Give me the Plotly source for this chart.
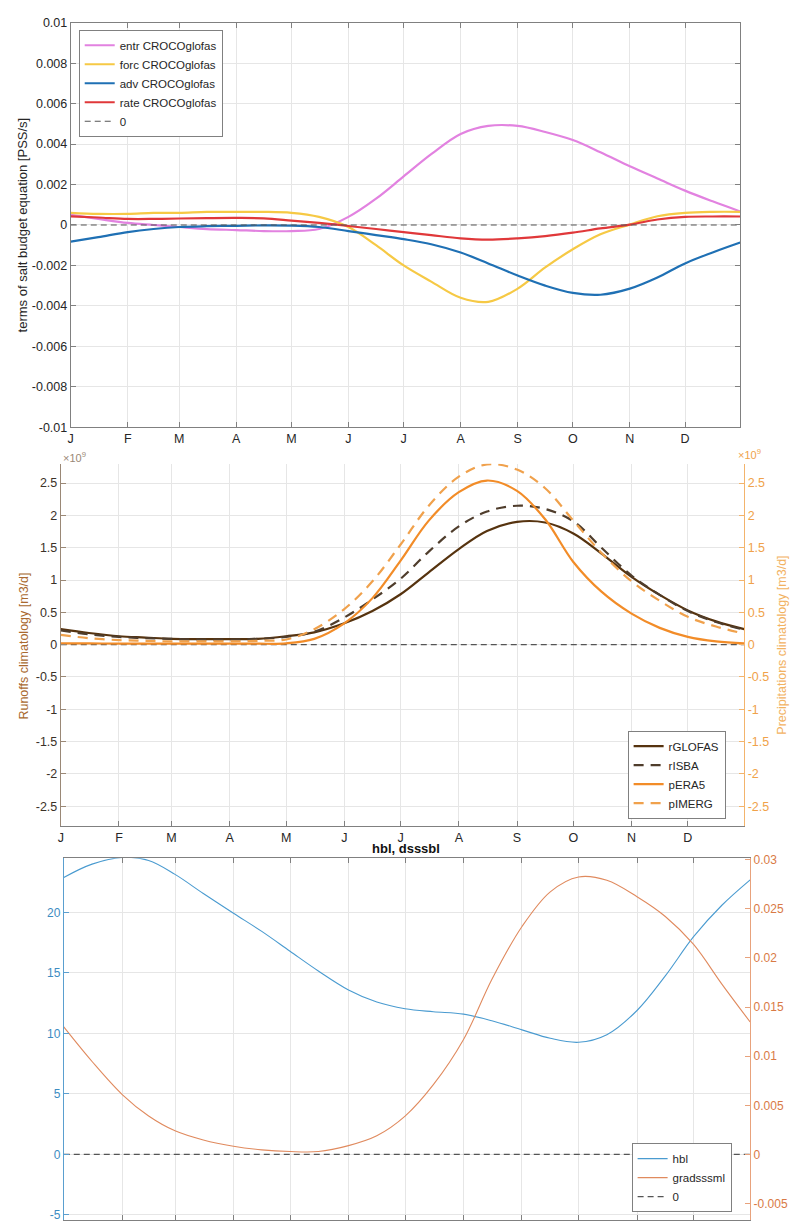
import plotly.graph_objects as go

# ---------------------------------------------------------------------------
# Day-of-year sample positions (0 = 1 January) and month ticks
# ---------------------------------------------------------------------------
DAYS = [0, 15, 31, 45, 59, 74, 90, 105, 120, 135, 151, 166, 181,
        196, 212, 227, 243, 258, 273, 288, 304, 319, 334, 349, 364]
MONTH_START = [0, 31, 59, 90, 120, 151, 181, 212, 243, 273, 304, 334]
MONTH_LABEL = ["J", "F", "M", "A", "M", "J", "J", "A", "S", "O", "N", "D"]

# ---------------------------------------------------------------------------
# Panel 1: terms of the salt budget equation [PSS/s]
# ---------------------------------------------------------------------------
entr = [0.0005, 0.0003, 0.0001, 0.0000, -0.0001, -0.0002, -0.00025, -0.0003,
        -0.0003, -0.0002, 0.0004, 0.0013, 0.0024, 0.0035, 0.0045, 0.0049,
        0.0049, 0.0046, 0.0042, 0.0036, 0.0029, 0.0023, 0.0017, 0.00117, 0.00067]
forc = [0.0006, 0.00055, 0.00055, 0.0006, 0.0006, 0.00065, 0.00065, 0.00065,
        0.0006, 0.0004, -0.0001, -0.0010, -0.0020, -0.0028, -0.0036, -0.0038,
        -0.00315, -0.0021, -0.0012, -0.00046, 0.00002, 0.00043, 0.0006, 0.00065, 0.00065]
adv = [-0.00082, -0.0006, -0.00035, -0.0002, -0.0001, -0.00006, -0.00004, -0.00002,
       -0.00003, -0.0001, -0.0003, -0.0005, -0.0007, -0.00095, -0.00136, -0.0019,
       -0.0025, -0.0030, -0.00336, -0.00345, -0.00315, -0.0026, -0.0019, -0.00136, -0.00087]
rate = [0.00043, 0.00037, 0.0003, 0.0003, 0.00032, 0.00034, 0.00035, 0.00033,
        0.00022, 0.0001, -0.00005, -0.0002, -0.00035, -0.0005, -0.00066, -0.00072,
        -0.00066, -0.00055, -0.00038, -0.00017, 0.00002, 0.00027, 0.0004, 0.00042, 0.00042]
P1_TICKS = [0.01, 0.008, 0.006, 0.004, 0.002, 0, -0.002, -0.004, -0.006, -0.008, -0.01]
P1_TICKTEXT = ["0.01", "0.008", "0.006", "0.004", "0.002", "0",
               "-0.002", "-0.004", "-0.006", "-0.008", "-0.01"]

# ---------------------------------------------------------------------------
# Panel 2: runoff / precipitation climatology [x1e9 m3/d]
# ---------------------------------------------------------------------------
rGLOFAS = [0.24, 0.18, 0.13, 0.11, 0.09, 0.085, 0.085, 0.09, 0.13, 0.19, 0.33, 0.52,
           0.78, 1.12, 1.48, 1.76, 1.90, 1.89, 1.72, 1.41, 1.05, 0.77, 0.53, 0.36, 0.24]
rISBA = [0.22, 0.16, 0.12, 0.10, 0.09, 0.08, 0.08, 0.09, 0.12, 0.20, 0.42, 0.70,
         1.02, 1.44, 1.83, 2.06, 2.15, 2.10, 1.91, 1.50, 1.07, 0.77, 0.52, 0.35, 0.23]
pERA5 = [0.02, 0.02, 0.015, 0.015, 0.015, 0.015, 0.015, 0.015, 0.02, 0.09, 0.33, 0.72,
         1.30, 1.92, 2.36, 2.54, 2.38, 1.94, 1.28, 0.82, 0.48, 0.26, 0.12, 0.05, 0.02]
pIMERG = [0.15, 0.10, 0.07, 0.06, 0.05, 0.05, 0.05, 0.06, 0.08, 0.24, 0.55, 0.98,
          1.55, 2.15, 2.60, 2.79, 2.71, 2.42, 1.92, 1.42, 0.98, 0.68, 0.43, 0.28, 0.17]
P2_TICKS = [2.5, 2, 1.5, 1, 0.5, 0, -0.5, -1, -1.5, -2, -2.5]
P2_TICKTEXT = ["2.5", "2", "1.5", "1", "0.5", "0", "-0.5", "-1", "-1.5", "-2", "-2.5"]

# ---------------------------------------------------------------------------
# Panel 3: hbl (left axis) and gradsssml (right axis)
# ---------------------------------------------------------------------------
hbl = [22.9, 24.0, 24.55, 24.3, 23.15, 21.57, 19.94, 18.44, 16.8, 15.17, 13.6, 12.6,
       12.05, 11.8, 11.6, 11.05, 10.3, 9.6, 9.27, 9.9, 11.9, 14.76, 18.0, 20.6, 22.7]
gradsssml = [0.01298, 0.00946, 0.0061, 0.00392, 0.00241, 0.00148, 0.00084, 0.00047,
             0.0003, 0.0003, 0.0009, 0.0019, 0.0039, 0.0071, 0.0117, 0.0178,
             0.0232, 0.02673, 0.02824, 0.0279, 0.02623, 0.02422, 0.02137, 0.01734, 0.01348]
P3L_TICKS = [-5, 0, 5, 10, 15, 20]
P3L_TICKTEXT = ["-5", "0", "5", "10", "15", "20"]
P3R_TICKS = [-0.005, 0, 0.005, 0.01, 0.015, 0.02, 0.025, 0.03]
P3R_TICKTEXT = ["-0.005", "0", "0.005", "0.01", "0.015", "0.02", "0.025", "0.03"]

# ---------------------------------------------------------------------------
W, H = 791, 1229
FONT = "Liberation Sans, Arial, Helvetica, sans-serif"
AXC = "#808080"
GRID = "#e6e6e6"
ZERO = "#555555"


def px(x):
    return x / W


def py(y):
    return 1 - y / H


zero_row = [0 for _ in DAYS]
fig = go.Figure()

# ---- panel 1 traces
p1 = [("entr CROCOglofas", entr, "#e282e0"),
      ("forc CROCOglofas", forc, "#f6c945"),
      ("adv CROCOglofas", adv, "#1f70b4"),
      ("rate CROCOglofas", rate, "#e0383a")]
for name, vals, col in p1:
    fig.add_trace(go.Scatter(x=DAYS, y=vals, name=name, mode="lines",
                             line=dict(color=col, width=2.2, shape="spline", smoothing=1.0),
                             xaxis="x", yaxis="y", legend="legend"))
fig.add_trace(go.Scatter(x=[DAYS[0], DAYS[-1]], y=[zero_row[0], zero_row[-1]], name="0",
                         mode="lines", line=dict(color=ZERO, width=1.2, dash="6px,4px"),
                         xaxis="x", yaxis="y", legend="legend"))

# ---- panel 2 traces
fig.add_trace(go.Scatter(x=[DAYS[0], DAYS[-1]], y=[zero_row[0], zero_row[-1]], mode="lines",
                         showlegend=False, line=dict(color=ZERO, width=1.2, dash="6px,4px"),
                         xaxis="x2", yaxis="y2"))
p2 = [("rGLOFAS", rGLOFAS, "#56330f", "solid", "y2"),
      ("rISBA", rISBA, "#4f3d2c", "10px,7px", "y2"),
      ("pERA5", pERA5, "#f28c28", "solid", "y3"),
      ("pIMERG", pIMERG, "#f0a14c", "10px,7px", "y3")]
for name, vals, col, dash, ya in p2:
    fig.add_trace(go.Scatter(x=DAYS, y=vals, name=name, mode="lines",
                             line=dict(color=col, width=2.2, dash=dash, shape="spline", smoothing=1.0),
                             xaxis="x2", yaxis=ya, legend="legend2"))

# ---- panel 3 traces
fig.add_trace(go.Scatter(x=DAYS, y=hbl, name="hbl", mode="lines",
                         line=dict(color="#4a9bd0", width=1.1, shape="spline", smoothing=1.0),
                         xaxis="x3", yaxis="y4", legend="legend3"))
fig.add_trace(go.Scatter(x=DAYS, y=gradsssml, name="gradsssml", mode="lines",
                         line=dict(color="#e08a5e", width=1.1, shape="spline", smoothing=1.0),
                         xaxis="x3", yaxis="y5", legend="legend3"))
fig.add_trace(go.Scatter(x=[DAYS[0], DAYS[-1]], y=[zero_row[0], zero_row[-1]], name="0",
                         mode="lines", line=dict(color=ZERO, width=1.2, dash="6px,4px"),
                         xaxis="x3", yaxis="y5", legend="legend3"))

TICK_SIZE = 12.5


def xaxis(domain, anchor, mirror, labels=True):
    return dict(domain=domain, anchor=anchor, range=[0, 364],
                tickmode="array", tickvals=MONTH_START, ticktext=MONTH_LABEL,
                ticks="inside", ticklen=5, tickcolor=AXC, showline=True, linecolor=AXC,
                linewidth=1, mirror=mirror, showgrid=True, gridcolor=GRID, zeroline=False,
                tickfont=dict(family=FONT, size=TICK_SIZE, color="#262626"),
                showticklabels=labels, fixedrange=True)


def yaxis(domain, anchor, rng, tv, tt, color=AXC, fontcolor="#262626", side="left",
          overlaying=None, grid=True, mirror=False, size=TICK_SIZE):
    d = dict(anchor=anchor, range=rng, tickmode="array", tickvals=tv, ticktext=tt,
             ticks="inside", ticklen=5, tickcolor=color, showline=True, linecolor=color,
             linewidth=1, mirror=mirror, showgrid=grid, gridcolor=GRID, zeroline=False,
             side=side, tickfont=dict(family=FONT, size=size, color=fontcolor),
             fixedrange=True)
    if overlaying:
        d["overlaying"] = overlaying
    else:
        d["domain"] = domain
    return d


d1x = [px(68), px(740)]
d1y = [py(425), py(16)]
d2x = [px(58), px(744)]
d2y = [py(828), py(462)]
d3x = [px(61), px(750)]
d3y = [py(1227), py(861)]

legend_common = dict(bgcolor="white", bordercolor=AXC, borderwidth=1,
                     font=dict(family=FONT, size=11.5, color="#262626"),
                     itemwidth=30, tracegroupgap=0)

fig.update_layout(
    width=W, height=H, autosize=False,
    margin=dict(l=0, r=0, t=0, b=0),
    paper_bgcolor="white", plot_bgcolor="white",
    font=dict(family=FONT, size=12, color="#262626"),
    xaxis=xaxis(d1x, "y", "ticks"),
    yaxis=yaxis(d1y, "x", [-0.01, 0.01], P1_TICKS, P1_TICKTEXT, mirror="ticks"),
    xaxis2=xaxis(d2x, "y2", False),
    yaxis2=yaxis(d2y, "x2", [-2.8, 2.8], P2_TICKS, P2_TICKTEXT,
                 color="#9a8876", fontcolor="#3b3128"),
    yaxis3=yaxis(None, "x2", [-2.8, 2.8], P2_TICKS, P2_TICKTEXT,
                 color="#f3b46c", fontcolor="#f0a24a", side="right",
                 overlaying="y2", grid=False),
    xaxis3=xaxis(d3x, "y4", "ticks", labels=False),
    yaxis4=yaxis(d3y, "x3", [-5.42, 24.49], P3L_TICKS, P3L_TICKTEXT,
                 color="#5a9fcf", fontcolor="#3d8cc2", size=12),
    yaxis5=yaxis(None, "x3", [-0.00667, 0.03015], P3R_TICKS, P3R_TICKTEXT,
                 color="#e8a27c", fontcolor="#d97a45", side="right",
                 overlaying="y4", grid=False, size=12),
    legend=dict(x=px(76), y=py(23), xanchor="left", yanchor="top", **legend_common),
    legend2=dict(x=px(627), y=py(821), xanchor="left", yanchor="bottom", **legend_common),
    legend3=dict(x=px(631), y=py(1219), xanchor="left", yanchor="bottom", **legend_common),
    showlegend=True,
)

ann = [
    dict(text="terms of salt budget equation [PSS/s]", x=px(20), y=py(220),
         textangle=-90, font=dict(size=13, color="#262626")),
    dict(text="Runoffs climatology [m3/d]", x=px(21), y=py(646),
         textangle=-90, font=dict(size=12.5, color="#a9692f")),
    dict(text="Precipitations climatology [m3/d]", x=px(782), y=py(646),
         textangle=-90, font=dict(size=12.5, color="#f2b262")),
    dict(text="\u00d710<sup>9</sup>", x=px(58), y=py(455), xanchor="left",
         font=dict(size=11, color="#9a8876")),
    dict(text="\u00d710<sup>9</sup>", x=px(736), y=py(452), xanchor="left",
         font=dict(size=11, color="#f0a24a")),
    dict(text="<b>hbl, dsssbl</b>", x=px(405), y=py(851),
         font=dict(size=13, color="#111111")),
]
for a in ann:
    a.setdefault("xanchor", "center")
    a.update(xref="paper", yref="paper", showarrow=False, yanchor="middle")
    a["font"]["family"] = FONT
fig.update_layout(annotations=ann)

fig.write_html("out.html")
